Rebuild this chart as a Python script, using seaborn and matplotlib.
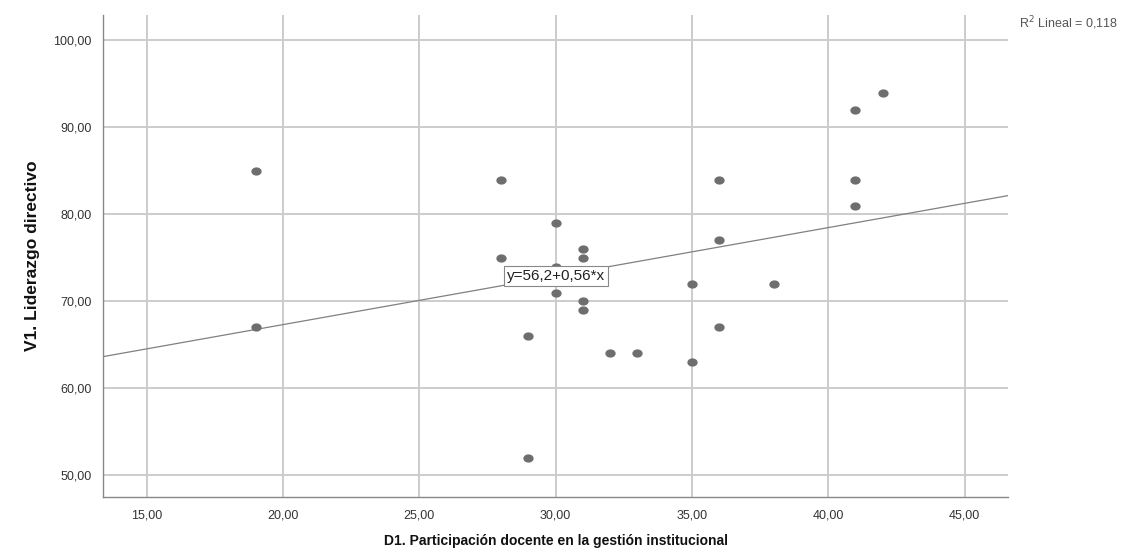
import numpy as np
import pandas as pd
import matplotlib
matplotlib.use("Agg")
import matplotlib.pyplot as plt
from matplotlib.ticker import FuncFormatter
from matplotlib.path import Path
import seaborn as sns

# Data
participacion = [19, 19, 28, 28, 29, 29, 30, 30, 30, 31, 31, 31, 31, 32, 33,
                 35, 35, 36, 36, 36, 38, 41, 41, 41, 42]
liderazgo = [85, 67, 84, 75, 66, 52, 79, 74, 71, 76, 75, 70, 69, 64, 64,
             72, 63, 84, 77, 67, 72, 92, 84, 81, 94]
x_ticks = [15, 20, 25, 30, 35, 40, 45]
y_ticks = [50, 60, 70, 80, 90, 100]
x_label = "D1. Participación docente en la gestión institucional"
y_label = "V1. Liderazgo directivo"
fit_label = "y=56,2+0,56*x"
r2_label = "R$^2$ Lineal = 0,118"

df = pd.DataFrame({"x": participacion, "y": liderazgo})

sns.set_theme(style="white")
plt.rcParams["font.family"] = ["Liberation Sans", "DejaVu Sans"]

fig = plt.figure(figsize=(11.23, 5.52), dpi=100)
ax = fig.add_axes([0.0917, 0.0996, 0.806, 0.873])
ax.set_xlim(13.39, 46.6)
ax.set_ylim(47.5, 102.9)

ax.grid(True, color="#cccccc", linewidth=1.4)
ax.set_axisbelow(True)

# slightly flattened ellipse marker
t = np.linspace(0, 2 * np.pi, 40)
ellipse = Path(np.column_stack([np.cos(t), 0.8 * np.sin(t)]), closed=True)

sns.regplot(data=df, x="x", y="y", ax=ax, ci=None, truncate=False, marker=ellipse,
            scatter_kws=dict(s=55, color="#6e6e6e", edgecolor="#6e6e6e", linewidths=0,
                             alpha=1, zorder=3),
            line_kws=dict(color="#808080", linewidth=0.9, zorder=2))

ax.set_xlim(13.39, 46.6)
ax.set_ylim(47.5, 102.9)
fmt = FuncFormatter(lambda v, p: f"{v:.2f}".replace(".", ","))
ax.set_xticks(x_ticks)
ax.set_yticks(y_ticks)
ax.xaxis.set_major_formatter(fmt)
ax.yaxis.set_major_formatter(fmt)
ax.tick_params(axis="both", labelsize=9, colors="#333333", length=0)
ax.tick_params(axis="x", pad=9)
ax.tick_params(axis="y", pad=8)

for s in ["top", "right"]:
    ax.spines[s].set_visible(False)
for s in ["left", "bottom"]:
    ax.spines[s].set_color("#888888")
    ax.spines[s].set_linewidth(1.0)

ax.set_xlabel(x_label, fontsize=10, fontweight="bold", color="#111111")
ax.set_ylabel(y_label, fontsize=12.5, fontweight="bold", color="#111111")
ax.xaxis.label.set_va("center")
ax.yaxis.label.set_va("center")
ax.xaxis.set_label_coords(0.5, -0.092)
ax.yaxis.set_label_coords(-0.078, 0.5)

# fit label centered on the line
slope, intercept = np.polyfit(df["x"], df["y"], 1)
xm = 30.0
ax.text(xm, intercept + slope * xm, fit_label, ha="center", va="center", fontsize=11,
        color="#222222", zorder=4,
        bbox=dict(boxstyle="square,pad=0.2", facecolor="white", edgecolor="#888888", linewidth=0.8))

fig.text(0.995, 0.958, r2_label, ha="right", va="center", fontsize=9, color="#555555")

fig.savefig("out.png", dpi=100)
